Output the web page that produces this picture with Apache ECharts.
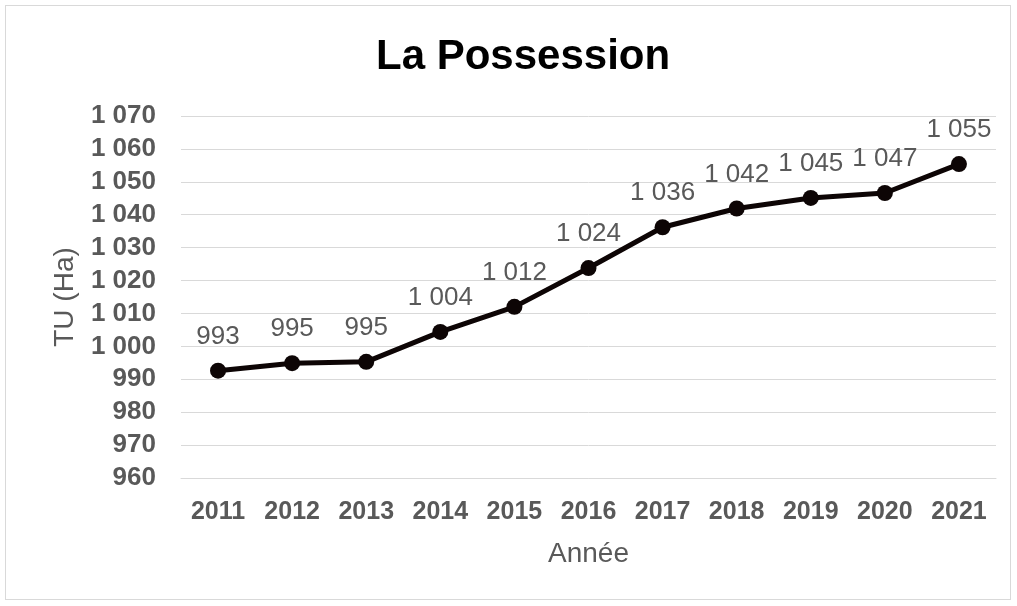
<!DOCTYPE html>
<html>
<head>
<meta charset="utf-8">
<script src="https://cdn.jsdelivr.net/npm/echarts@6/dist/echarts.min.js"></script>
<style>
  html, body { margin: 0; padding: 0; background: #fff; }
  #chart {
    position: absolute; left: 5px; top: 5px;
    width: 1006px; height: 595px;
    border: 1px solid #d9d9d9; box-sizing: border-box;
  }
</style>
</head>
<body>
<div id="chart"></div>
<script>
// données
const years = ['2011', '2012', '2013', '2014', '2015', '2016', '2017', '2018', '2019', '2020', '2021'];
const tuHa = [992.6, 994.9, 995.3, 1004.4, 1012.0, 1023.8, 1036.2, 1041.9, 1045.1, 1046.6, 1055.4];
const yMin = 960;
const yMax = 1070;
const yStep = 10;

// séparateur de milliers en espace
const fmt = v => {
  const n = Math.round(v);
  return n >= 1000 ? Math.floor(n / 1000) + ' ' + String(n % 1000).padStart(3, '0') : String(n);
};

const chart = echarts.init(document.getElementById('chart'));
chart.setOption({
  animation: false,
  title: {
    text: 'La Possession',
    left: 365,
    top: 25,
    textStyle: { fontFamily: 'Liberation Sans', fontSize: 42, fontWeight: 'bold', color: '#000' }
  },
  grid: { left: 175, right: 14, top: 110, bottom: 121 },
  xAxis: {
    type: 'category',
    data: years,
    name: 'Année',
    nameLocation: 'middle',
    nameGap: 62,
    nameTextStyle: { fontFamily: 'Liberation Sans', fontSize: 28, color: '#595959' },
    axisLine: { lineStyle: { color: '#d9d9d9', width: 1 } },
    axisTick: { show: false },
    axisLabel: { fontFamily: 'Liberation Sans', fontSize: 25, fontWeight: 'bold', color: '#595959', margin: 22 }
  },
  yAxis: {
    type: 'value',
    min: yMin,
    max: yMax,
    interval: yStep,
    name: 'TU (Ha)',
    nameLocation: 'middle',
    nameGap: 102,
    nameTextStyle: { fontFamily: 'Liberation Sans', fontSize: 28, color: '#595959' },
    axisLine: { show: false },
    axisTick: { show: false },
    splitLine: { lineStyle: { color: '#d9d9d9', width: 1 } },
    axisLabel: { fontFamily: 'Liberation Sans', fontSize: 26, fontWeight: 'bold', color: '#595959', margin: 25, formatter: fmt }
  },
  series: [{
    type: 'line',
    data: tuHa,
    color: '#0d0505',
    lineStyle: { width: 5, color: '#0d0505' },
    symbol: 'circle',
    symbolSize: 16,
    label: {
      show: true,
      position: 'top',
      distance: 13,
      fontFamily: 'Liberation Sans',
      fontSize: 26,
      color: '#595959',
      formatter: p => fmt(p.value)
    }
  }]
});
</script>
</body>
</html>
